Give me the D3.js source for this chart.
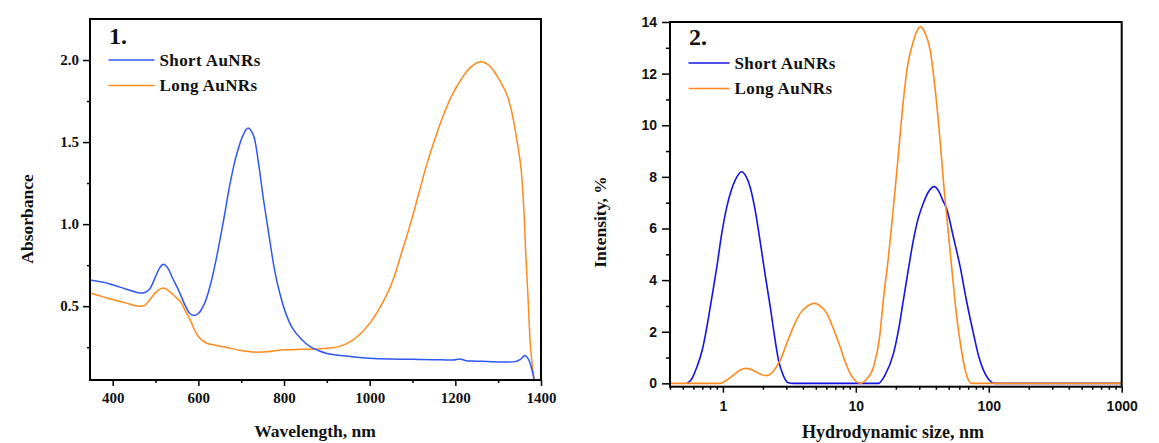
<!DOCTYPE html>
<html>
<head>
<meta charset="utf-8">
<script src="https://cdn.jsdelivr.net/npm/d3@7"></script>
<style>
  body { margin: 0; background: #fff; }
  svg text { fill: #111; }
</style>
</head>
<body>
<script>
// Panel 1: UV-Vis-NIR spectra
const shortWl = [347, 380, 400, 430, 455, 470, 485, 500, 510, 518, 528, 540, 555, 570, 580, 590, 600, 615, 630, 645, 660, 675, 690, 705, 716, 728, 740, 752, 765, 778, 790, 805, 820, 840, 860, 880, 900, 950, 1000, 1050, 1100, 1150, 1195, 1210, 1225, 1250, 1300, 1340, 1352, 1362, 1370, 1378, 1384];
const shortAbs = [0.66, 0.645, 0.63, 0.605, 0.585, 0.58, 0.60, 0.68, 0.735, 0.756, 0.735, 0.67, 0.59, 0.50, 0.455, 0.443, 0.455, 0.52, 0.65, 0.83, 1.04, 1.26, 1.43, 1.545, 1.585, 1.545, 1.38, 1.15, 0.93, 0.72, 0.58, 0.45, 0.365, 0.30, 0.255, 0.23, 0.212, 0.195, 0.183, 0.178, 0.176, 0.174, 0.172, 0.178, 0.168, 0.165, 0.160, 0.162, 0.175, 0.199, 0.18, 0.12, 0.05];
const longWl = [347, 380, 400, 430, 460, 475, 490, 505, 518, 530, 545, 558, 570, 581, 592, 600, 610, 620, 640, 667, 700, 730, 760, 800, 840, 870, 900, 930, 956, 978, 1000, 1017, 1040, 1056, 1075, 1095, 1115, 1134, 1155, 1173, 1192, 1212, 1235, 1259, 1280, 1298, 1312, 1322, 1332, 1341, 1347, 1353, 1360, 1364, 1370, 1376, 1384];
const longAbs = [0.58, 0.555, 0.54, 0.52, 0.50, 0.505, 0.55, 0.595, 0.61, 0.595, 0.56, 0.528, 0.47, 0.416, 0.35, 0.315, 0.29, 0.274, 0.262, 0.248, 0.23, 0.22, 0.222, 0.234, 0.237, 0.238, 0.243, 0.255, 0.285, 0.33, 0.395, 0.46, 0.57, 0.67, 0.83, 1.00, 1.19, 1.37, 1.54, 1.67, 1.785, 1.875, 1.955, 1.99, 1.965, 1.90, 1.835, 1.778, 1.68, 1.555, 1.46, 1.35, 1.087, 0.843, 0.538, 0.234, 0.05];

// Panel 2: DLS size distributions
const shortSize = [0.536, 0.58, 0.638, 0.70, 0.758, 0.83, 0.901, 0.98, 1.07, 1.16, 1.24, 1.38, 1.5, 1.6, 1.75, 1.9, 2.08, 2.27, 2.45, 2.62, 2.85, 3.1, 3.4, 14.8, 16.5, 19.2, 21, 22.8, 25, 27.1, 29.5, 32.2, 35.5, 38.8, 42, 45, 48.3, 54, 60.9, 68, 76.6, 84, 91, 100, 111, 1000];
const shortInt = [0, 0.15, 0.64, 1.3, 2.19, 3.4, 4.52, 5.8, 6.84, 7.5, 7.88, 8.2, 8.0, 7.62, 6.7, 5.55, 4.2, 2.97, 1.8, 0.9, 0.3, 0.02, 0, 0, 0.3, 1.16, 2.1, 3.23, 4.5, 5.55, 6.4, 6.98, 7.45, 7.62, 7.45, 7.1, 6.75, 5.7, 4.52, 3.2, 1.94, 1.05, 0.52, 0.15, 0, 0];
const longSize = [0.4, 0.955, 1.05, 1.2, 1.35, 1.5, 1.7, 1.9, 2.14, 2.4, 2.7, 3.0, 3.39, 3.8, 4.27, 4.88, 5.4, 6.05, 6.8, 7.62, 8.3, 9.06, 9.9, 10.8, 12, 13.6, 15.1, 16.1, 17.6, 19.2, 21, 22.8, 24.5, 26.4, 28.5, 30.6, 33, 36.2, 39.5, 43, 46, 49.7, 53.5, 57.4, 62, 66.4, 70, 74.5, 1000];
const longInt = [0, 0, 0.1, 0.32, 0.52, 0.58, 0.5, 0.36, 0.3, 0.48, 0.9, 1.5, 2.19, 2.7, 2.97, 3.1, 3.0, 2.71, 2.1, 1.42, 0.85, 0.39, 0.1, 0, 0.15, 0.64, 1.8, 3.23, 4.9, 6.84, 9.0, 10.98, 12.3, 13.05, 13.6, 13.82, 13.6, 12.92, 11.4, 9.43, 7.6, 5.81, 4.1, 2.58, 1.35, 0.52, 0.15, 0, 0];

const seriesNames = ["Short AuNRs", "Long AuNRs"];
const absTicks = [0.5, 1.0, 1.5, 2.0];
const absMinor = [0.25, 0.75, 1.25, 1.75];
const wlTicks = [400, 600, 800, 1000, 1200, 1400];
const wlMinor = [500, 700, 900, 1100, 1300];
const intTicks = [0, 2, 4, 6, 8, 10, 12, 14];
const intMinor = [1, 3, 5, 7, 9, 11, 13];
const sizeTicks = [1, 10, 100, 1000];

const serif = "'Liberation Serif', 'Times New Roman', serif";
const sans = "'Liberation Sans', Arial, sans-serif";
const orange = "#ff8a1c";

const svg = d3.select("body").append("svg")
  .attr("width", 1159)
  .attr("height", 443);

function zip(xs, ys) { return xs.map((x, i) => [x, ys[i]]); }

// strip the domain path and style ticks (the frame is drawn separately)
function styleAxis(g, font, size) {
  g.select(".domain").remove();
  g.selectAll(".tick line").attr("stroke", "#000").attr("stroke-width", 1.5);
  g.selectAll(".tick text")
    .style("font-family", font)
    .style("font-size", size + "px")
    .style("font-weight", "bold")
    .attr("fill", "#111");
}

/***** Panel 1 *****/
const x1 = d3.scaleLinear().domain([347, 1400]).range([90, 541]);
const y1 = d3.scaleLinear().domain([0.05, 2.25]).range([380, 19]);

svg.append("g").attr("transform", "translate(0,380)")
  .call(d3.axisBottom(x1).tickValues(wlTicks).tickSize(6).tickPadding(6).tickFormat(d3.format("d")))
  .call(g => styleAxis(g, serif, 15));
svg.append("g").attr("transform", "translate(0,380)")
  .call(d3.axisBottom(x1).tickValues(wlMinor).tickSize(3).tickFormat(""))
  .call(g => styleAxis(g, serif, 15));
svg.append("g").attr("transform", "translate(90,0)")
  .call(d3.axisLeft(y1).tickValues(absTicks).tickSize(7).tickPadding(4).tickFormat(d3.format(".1f")))
  .call(g => styleAxis(g, serif, 15));
svg.append("g").attr("transform", "translate(90,0)")
  .call(d3.axisLeft(y1).tickValues(absMinor).tickSize(3).tickFormat(""))
  .call(g => styleAxis(g, serif, 15));

const line1 = d3.line().x(d => x1(d[0])).y(d => y1(d[1])).curve(d3.curveCatmullRom.alpha(0.5));
svg.append("path").datum(zip(longWl, longAbs))
  .attr("fill", "none").attr("stroke", orange).attr("stroke-width", 1.5).attr("d", line1);
svg.append("path").datum(zip(shortWl, shortAbs))
  .attr("fill", "none").attr("stroke", "#2e57f5").attr("stroke-width", 1.5).attr("d", line1);

svg.append("rect").attr("x", 90).attr("y", 19).attr("width", 451).attr("height", 361)
  .attr("fill", "none").attr("stroke", "#000").attr("stroke-width", 2);

svg.append("text").attr("x", 109).attr("y", 44).text("1.")
  .style("font-family", serif).style("font-size", "24px").style("font-weight", "bold");

svg.append("text").attr("x", 315).attr("y", 437).attr("text-anchor", "middle")
  .text("Wavelength, nm")
  .style("font-family", serif).style("font-size", "17.5px").style("font-weight", "bold");
svg.append("text").attr("transform", "translate(33,219) rotate(-90)").attr("text-anchor", "middle")
  .text("Absorbance")
  .style("font-family", serif).style("font-size", "17.5px").style("font-weight", "bold");

/***** Panel 2 *****/
const x2 = d3.scaleLog().domain([0.4, 1000]).range([670, 1121.7]);
const y2 = d3.scaleLinear().domain([-0.13, 14]).range([386.7, 22]);

const sizeMinor = [];
[0.1, 1, 10, 100].forEach(dec => {
  for (let k = 2; k <= 9; k++) if (k * dec >= 0.4) sizeMinor.push(k * dec);
});

svg.append("g").attr("transform", "translate(0,386.7)")
  .call(d3.axisBottom(x2).tickValues(sizeTicks).tickSize(6).tickPadding(8).tickFormat(d3.format("d")))
  .call(g => styleAxis(g, sans, 14));
svg.append("g").attr("transform", "translate(0,386.7)")
  .call(d3.axisBottom(x2).tickValues(sizeMinor).tickSize(3).tickFormat(""))
  .call(g => styleAxis(g, sans, 14));
svg.append("g").attr("transform", "translate(670,0)")
  .call(d3.axisLeft(y2).tickValues(intTicks).tickSize(8).tickPadding(5).tickFormat(d3.format("d")))
  .call(g => styleAxis(g, sans, 14));
svg.append("g").attr("transform", "translate(670,0)")
  .call(d3.axisLeft(y2).tickValues(intMinor).tickSize(4).tickFormat(""))
  .call(g => styleAxis(g, sans, 14));

const line2 = d3.line().x(d => x2(d[0])).y(d => y2(d[1])).curve(d3.curveMonotoneX);
svg.append("path").datum(zip(shortSize, shortInt))
  .attr("fill", "none").attr("stroke", "#1414e6").attr("stroke-width", 1.6).attr("d", line2);
svg.append("path").datum(zip(longSize, longInt))
  .attr("fill", "none").attr("stroke", orange).attr("stroke-width", 1.6).attr("d", line2);

svg.append("rect").attr("x", 670).attr("y", 22).attr("width", 451.7).attr("height", 364.7)
  .attr("fill", "none").attr("stroke", "#000").attr("stroke-width", 2);

svg.append("text").attr("x", 689).attr("y", 45).text("2.")
  .style("font-family", serif).style("font-size", "24px").style("font-weight", "bold");

svg.append("text").attr("x", 893).attr("y", 438).attr("text-anchor", "middle")
  .text("Hydrodynamic size, nm")
  .style("font-family", serif).style("font-size", "18px").style("font-weight", "bold");
svg.append("text").attr("transform", "translate(606,222) rotate(-90)").attr("text-anchor", "middle")
  .text("Intensity, %")
  .style("font-family", serif).style("font-size", "17.5px").style("font-weight", "bold");

/***** Legends *****/
const legends = [
  { x: 108.5, y: 60, len: 46, colors: ["#2e57f5", orange] },
  { x: 688.5, y: 63, len: 41, colors: ["#1414e6", orange] }
];
legends.forEach(lg => {
  seriesNames.forEach((name, i) => {
    const yy = lg.y + i * 25.5;
    svg.append("line")
      .attr("x1", lg.x).attr("x2", lg.x + lg.len).attr("y1", yy).attr("y2", yy)
      .attr("stroke", lg.colors[i]).attr("stroke-width", 1.6);
    svg.append("text").attr("x", lg.x + lg.len + 5).attr("y", yy + 5.5)
      .text(name)
      .style("font-family", serif).style("font-size", "17px").style("font-weight", "bold")
      .style("letter-spacing", "0.4px");
  });
});
</script>
</body>
</html>
